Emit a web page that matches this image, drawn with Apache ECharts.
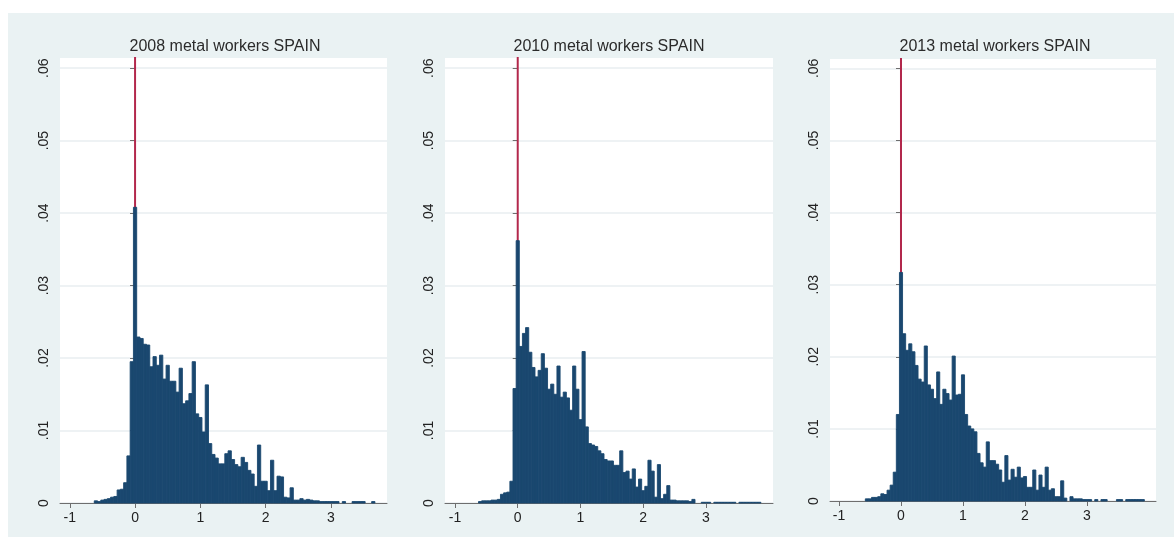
<!DOCTYPE html>
<html>
<head>
<meta charset="utf-8">
<script src="https://cdn.jsdelivr.net/npm/echarts@6/dist/echarts.min.js"></script>
<style>
  html, body { margin: 0; padding: 0; background: #ffffff; }
  #wrap { position: relative; width: 1174px; height: 537px; overflow: hidden; }
  #bg { position: absolute; left: 8px; top: 13px; width: 1166px; height: 524px; background: #eaf2f3; }
  #chart { position: absolute; left: 0; top: 0; width: 1174px; height: 537px; }
</style>
</head>
<body>
<div id="wrap"><div id="bg"></div><div id="chart"></div></div>
<script>
// ---------------- data ----------------
const titles = ['2008 metal workers SPAIN', '2010 metal workers SPAIN', '2013 metal workers SPAIN'];

// histogram bin centres (shared by the three panels)
const binCenters = [
  -0.65, -0.60, -0.55, -0.50, -0.45, -0.40, -0.35, -0.30, -0.25, -0.20,
  -0.15, -0.10, -0.05, 0.00, 0.05, 0.10, 0.15, 0.20, 0.25, 0.30,
  0.35, 0.40, 0.45, 0.50, 0.55, 0.60, 0.65, 0.70, 0.75, 0.80,
  0.85, 0.90, 0.95, 1.00, 1.05, 1.10, 1.15, 1.20, 1.25, 1.30,
  1.35, 1.40, 1.45, 1.50, 1.55, 1.60, 1.65, 1.70, 1.75, 1.80,
  1.85, 1.90, 1.95, 2.00, 2.05, 2.10, 2.15, 2.20, 2.25, 2.30,
  2.35, 2.40, 2.45, 2.50, 2.55, 2.60, 2.65, 2.70, 2.75, 2.80,
  2.85, 2.90, 2.95, 3.00, 3.05, 3.10, 3.15, 3.20, 3.25, 3.30,
  3.35, 3.40, 3.45, 3.50, 3.55, 3.60, 3.65, 3.70, 3.75, 3.80,
  3.85, 3.90
];
const binWidth = 0.05;

const density2008 = [
  0, .0003, .0002, .0004, .0005, .0006, .0008, .0009, .0018, .0019,
  .0028, .0065, .0195, .0408, .0229, .0227, .0219, .0218, .0188, .0202,
  .0190, .0204, .0171, .0190, .0168, .0168, .0153, .0186, .0137, .0141,
  .0151, .0195, .0123, .0118, .0098, .0163, .0082, .0067, .0062, .0054,
  .0054, .0068, .0072, .0060, .0053, .0050, .0063, .0056, .0045, .0040,
  .0023, .0080, .0030, .0030, .0017, .0059, .0017, .0037, .0036, .0008,
  .0007, .0021, .0004, .0004, .0006, .0004, .0005, .0004, .0003, .0003,
  .0002, .0002, .0002, .0002, .0002, .0002, 0, .0002, 0, 0,
  .0002, .0002, .0002, .0002, 0, 0, .0002, 0, 0, 0,
  0, 0
];
const density2010 = [
  0, .0002, .0003, .0003, .0003, .0004, .0004, .0005, .0012, .0014,
  .0015, .0030, .0158, .0362, .0216, .0234, .0242, .0208, .0187, .0174,
  .0183, .0206, .0186, .0157, .0164, .0150, .0189, .0146, .0153, .0145,
  .0128, .0189, .0157, .0115, .0209, .0105, .0082, .0080, .0078, .0072,
  .0068, .0060, .0058, .0058, .0052, .0052, .0072, .0042, .0044, .0033,
  .0047, .0022, .0033, .0017, .0023, .0059, .0044, .0008, .0053, .0006,
  .0012, .0024, .0004, .0004, .0003, .0003, .0003, .0003, .0002, .0005,
  0, 0, .0001, .0001, .0001, 0, .0001, .0001, .0001, .0001,
  .0001, .0001, .0001, 0, .0001, .0001, .0001, .0001, .0001, .0001,
  .0001, 0
];
const density2013 = [
  0, 0, .0003, .0003, .0005, .0005, .0006, .0010, .0009, .0015,
  .0022, .0040, .0120, .0317, .0232, .0209, .0218, .0207, .0188, .0169,
  .0165, .0215, .0161, .0155, .0142, .0179, .0134, .0155, .0149, .0140,
  .0201, .0147, .0148, .0175, .0120, .0104, .0100, .0096, .0066, .0053,
  .0047, .0082, .0056, .0056, .0051, .0043, .0026, .0063, .0029, .0044,
  .0033, .0047, .0032, .0034, .0019, .0019, .0043, .0015, .0036, .0019,
  .0047, .0015, .0017, .0006, .0006, .0028, .0004, 0, .0006, .0003,
  .0003, .0003, .0002, .0002, .0002, 0, .0002, 0, .0002, .0002,
  0, 0, 0, .0002, .0002, 0, .0002, .0002, .0002, .0002,
  .0002, .0002
];
const allDensities = [density2008, density2010, density2013];

const xTickValues = [-1, 0, 1, 2, 3];
const yTickValues = [0, 0.01, 0.02, 0.03, 0.04, 0.05, 0.06];
const yTickLabels = ['0', '.01', '.02', '.03', '.04', '.05', '.06'];
const refLineX = 0;

// ---------------- layout / style ----------------
const FONT = 'Liberation Sans, Arial, sans-serif';
const panels = [
  { left: 60,  top: 58, width: 327, height: 445, xMin: -1.15,  xMax: 3.86,  yMax: 0.0614, titleX: 225 },
  { left: 445, top: 58, width: 328, height: 445, xMin: -1.159, xMax: 4.068, yMax: 0.0614, titleX: 609 },
  { left: 830, top: 59, width: 326, height: 442, xMin: -1.145, xMax: 4.113, yMax: 0.0613, titleX: 995 }
];
const BAR = '#1a476f';
const RED = '#b3284c';
const AXIS = '#6e6e6e';

const grids = [], xAxes = [], yAxes = [], series = [], graphics = [];
panels.forEach((p, i) => {
  grids.push({ left: p.left, top: p.top, width: p.width, height: p.height,
    show: true, backgroundColor: '#ffffff', borderWidth: 0, containLabel: false });
  xAxes.push({
    gridIndex: i, type: 'value', min: p.xMin, max: p.xMax,
    axisLine: { show: true, onZero: false, lineStyle: { color: AXIS, width: 1 } },
    axisTick: { show: true, customValues: xTickValues, length: 5, lineStyle: { color: AXIS } },
    axisLabel: { show: true, customValues: xTickValues, color: '#222', fontSize: 14, fontFamily: FONT, margin: 8 },
    splitLine: { show: false }
  });
  yAxes.push({
    gridIndex: i, type: 'value', min: 0, max: p.yMax,
    axisLine: { show: true, lineStyle: { color: AXIS, width: 1 } },
    axisTick: { show: true, customValues: yTickValues, length: 5, lineStyle: { color: AXIS } },
    axisLabel: { show: true, customValues: yTickValues, rotate: 90, color: '#222', fontSize: 14, fontFamily: FONT, margin: 9,
      formatter: (v) => { const k = yTickValues.findIndex(t => Math.abs(t - v) < 1e-9); return k >= 0 ? yTickLabels[k] : ''; } },
    splitLine: { show: true, lineStyle: { color: '#e8eef0', width: 1.5 } }
  });
  // red reference line at x = 0 (drawn beneath the bars)
  series.push({
    type: 'line', xAxisIndex: i, yAxisIndex: i, z: 1, symbol: 'none', silent: true,
    data: [[refLineX, 0], [refLineX, 1]],
    lineStyle: { color: RED, width: 2 }, clip: true, animation: false
  });
  const dens = allDensities[i];
  series.push({
    type: 'custom', xAxisIndex: i, yAxisIndex: i, z: 2, animation: false,
    data: binCenters.map((c, k) => [c, dens[k]]).filter(d => d[1] > 0),
    encode: { x: 0, y: 1 },
    renderItem: function (params, api) {
      const c = api.value(0), v = api.value(1);
      const p0 = api.coord([c - binWidth / 2, v]);
      const p1 = api.coord([c + binWidth / 2, 0]);
      return { type: 'rect',
        shape: { x: p0[0], y: p0[1], width: p1[0] - p0[0], height: p1[1] - p0[1] },
        style: { fill: BAR, stroke: BAR, lineWidth: 0.9 } };
    }
  });
  graphics.push({ type: 'text', x: p.titleX, y: 47, style: { text: titles[i], textAlign: 'center', textVerticalAlign: 'middle',
    fill: '#2b2b2b', fontSize: 16, fontFamily: FONT } });
});

const chart = echarts.init(document.getElementById('chart'), null, { renderer: 'canvas' });
chart.setOption({
  backgroundColor: 'transparent',
  animation: false,
  grid: grids, xAxis: xAxes, yAxis: yAxes, series: series,
  graphic: graphics
});
</script>
</body>
</html>
